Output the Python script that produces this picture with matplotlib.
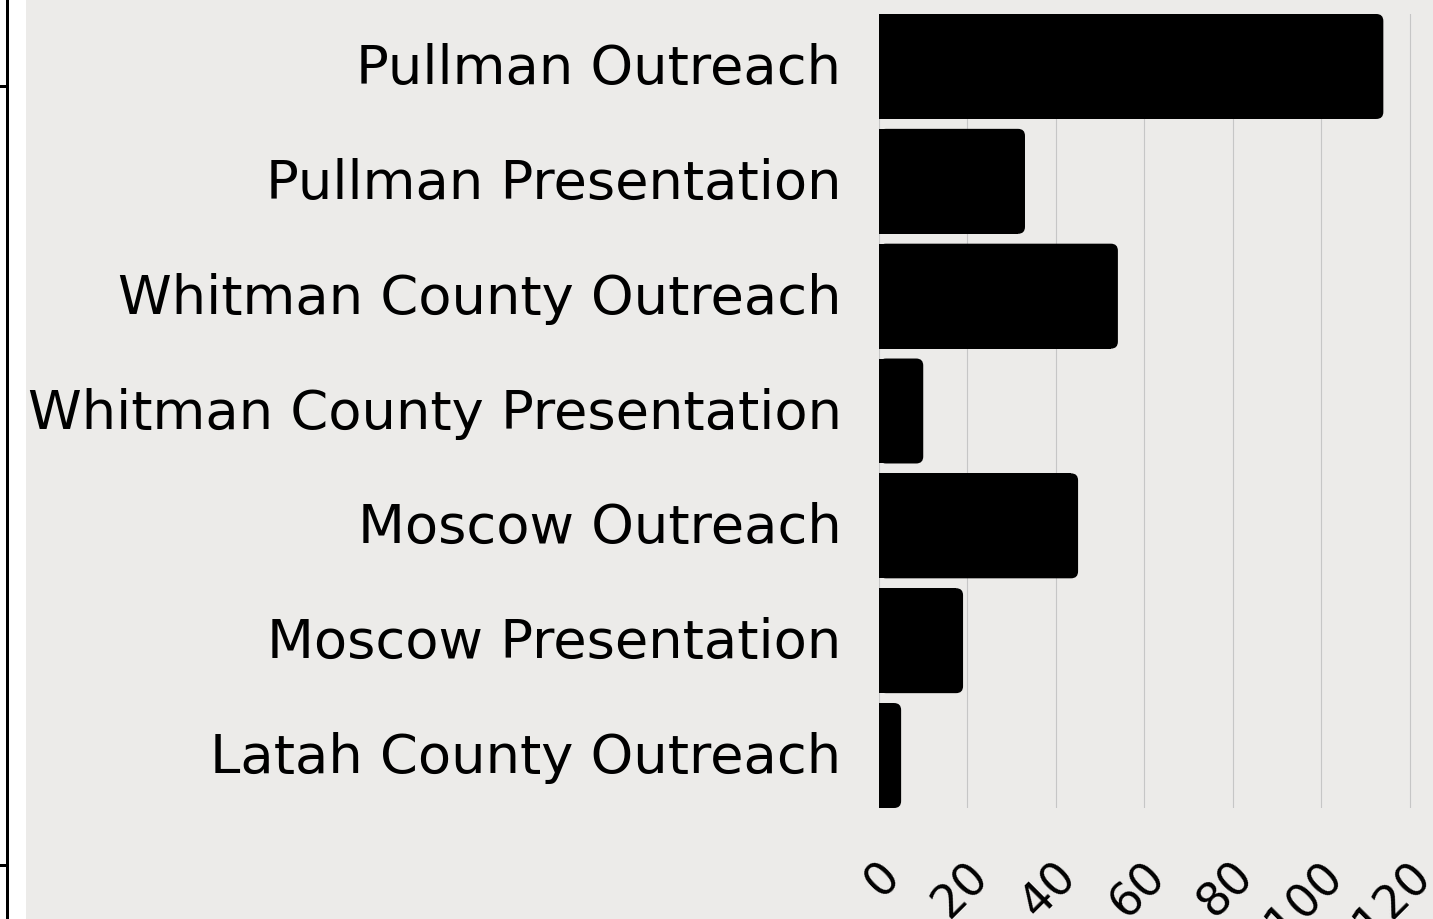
import matplotlib
matplotlib.use('Agg')
import matplotlib.pyplot as plt
from matplotlib.patches import FancyBboxPatch, Rectangle
from matplotlib.lines import Line2D
import matplotlib.transforms as mtransforms
import numpy as np

categories = ["Pullman Outreach", "Pullman Presentation", "Whitman County Outreach",
              "Whitman County Presentation", "Moscow Outreach", "Moscow Presentation",
              "Latah County Outreach"]
values = [114, 33, 54, 10, 45, 19, 5]
x_ticks = [0, 20, 40, 60, 80, 100, 120]
x_tick_labels = ["0", "20", "40", "60", "80", "100", "120"]

W, H = 1433, 919
DPI = 100
BG = '#ECEBE9'
plt.rcParams['font.family'] = ['DejaVu Sans']

fig = plt.figure(figsize=(W / DPI, H / DPI), dpi=DPI, facecolor='white')
fig.patches.append(Rectangle((26 / W, 0), 1 - 26 / W, 1, transform=fig.transFigure,
                             facecolor=BG, edgecolor='none', zorder=-5))
fig.lines.append(Line2D([6.5 / W] * 2, [0, 1], transform=fig.transFigure,
                        color='black', lw=3 * 72 / DPI, zorder=-4))
for yp in (85.5, 864.5):
    fig.lines.append(Line2D([0, 7 / W], [1 - yp / H] * 2, transform=fig.transFigure,
                            color='black', lw=3 * 72 / DPI, zorder=-4))

left, right = 879 / W, 1432 / W
top, bottom = 1 - 14 / H, 1 - 808 / H
ax = fig.add_axes([left, bottom, right - left, top - bottom])
ax.set_facecolor(BG)
for s in ax.spines.values():
    s.set_visible(False)

n = len(categories)
bar_h = 0.914
ypos = np.arange(n)
xmax = 125
ax.set_xlim(0, xmax)
ax.set_ylim(n - 1 + bar_h / 2, -bar_h / 2)

px_x = (right - left) * W / xmax
px_y = (top - bottom) * H / (n - 1 + bar_h)
r_px = 7
r_x = r_px / px_x
aspect = px_x / px_y

vals = np.array(values, dtype=float)
ax.barh(ypos, np.maximum(vals - r_x, 0), height=bar_h, color='black', zorder=3)
for yi, v in zip(ypos, vals):
    ax.add_patch(FancyBboxPatch((0, yi - bar_h / 2), v, bar_h,
                                boxstyle=f"round,pad=0,rounding_size={r_x}",
                                mutation_aspect=aspect, facecolor='black',
                                edgecolor='none', zorder=3))

ax.grid(axis='x', color='#c6c6c6', lw=0.8)
ax.grid(axis='y', visible=False)
ax.set_axisbelow(True)

ax.set_yticks(ypos)
ax.set_yticklabels(categories, fontsize=39.2)
ax.tick_params(axis='y', length=0, pad=27)
yoff = mtransforms.ScaledTranslation(0, 3 / DPI, fig.dpi_scale_trans)
for lab in ax.get_yticklabels():
    lab.set_transform(lab.get_transform() + yoff)

ax.set_xticks(x_ticks)
ax.set_xticklabels(x_tick_labels, fontsize=33, rotation=45, ha='right', va='center',
                   rotation_mode='anchor')
ax.tick_params(axis='x', length=0, pad=44)
off = mtransforms.ScaledTranslation(14 / DPI, 0, fig.dpi_scale_trans)
for lab in ax.get_xticklabels():
    lab.set_transform(lab.get_transform() + off)

fig.savefig('out.png', dpi=DPI, facecolor='white')
